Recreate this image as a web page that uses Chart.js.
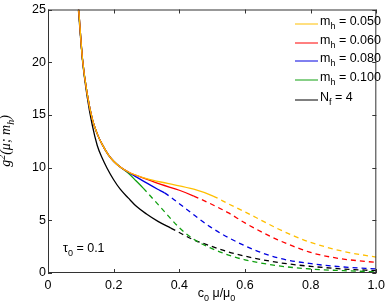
<!DOCTYPE html>
<html lang="en">
<head>
<meta charset="UTF-8">
<title>g2 running coupling</title>
<script src="https://cdn.jsdelivr.net/npm/chart.js"></script>
<style>
  body { margin: 0; background: #fff; }
  canvas { display: block; }
</style>
</head>
<body>
<canvas id="chart" width="390" height="306"></canvas>
<script>
// axis ticks
const xTicks = [0, 0.2, 0.4, 0.6, 0.8, 1];
const yTicks = [0, 5, 10, 15, 20, 25];

// m_h = 0.050 (solid up to 0.503, dashed after)
const m050_x = [0.0935, 0.105, 0.12, 0.135, 0.15, 0.165, 0.185, 0.2, 0.22, 0.245, 0.3, 0.364, 0.444, 0.503, 0.55, 0.6, 0.65, 0.7, 0.75, 0.8, 0.9, 1.0];
const m050_y = [25, 20.3, 16.9, 14.6, 13.2, 12.2, 11.15, 10.6, 10.05, 9.58, 8.95, 8.5, 7.95, 7.3, 6.55, 5.8, 5.0, 4.2, 3.5, 2.9, 2.05, 1.5];

// m_h = 0.060
const m060_x = [0.0935, 0.105, 0.12, 0.135, 0.15, 0.165, 0.185, 0.2, 0.22, 0.245, 0.3, 0.344, 0.4, 0.444, 0.513, 0.55, 0.6, 0.65, 0.7, 0.75, 0.8, 0.85, 0.9, 1.0];
const m060_y = [25, 20.3, 16.9, 14.6, 13.2, 12.2, 11.15, 10.6, 10.05, 9.58, 8.9, 8.4, 7.85, 7.3, 6.3, 5.7, 4.75, 3.9, 3.15, 2.5, 1.95, 1.58, 1.32, 1.0];

// m_h = 0.080
const m080_x = [0.0935, 0.105, 0.12, 0.135, 0.15, 0.165, 0.185, 0.2, 0.22, 0.245, 0.27, 0.3, 0.334, 0.355, 0.424, 0.493, 0.553, 0.628, 0.702, 0.802, 0.901, 1.0];
const m080_y = [25, 20.3, 16.9, 14.6, 13.2, 12.2, 11.15, 10.6, 10.05, 9.56, 9.1, 8.55, 7.95, 7.6, 6.0, 4.4, 3.3, 2.2, 1.42, 0.88, 0.57, 0.38];

// m_h = 0.100
const m100_x = [0.0935, 0.105, 0.12, 0.135, 0.15, 0.165, 0.185, 0.2, 0.22, 0.245, 0.268, 0.29, 0.344, 0.4, 0.444, 0.493, 0.55, 0.6, 0.7, 0.8, 0.9, 1.0];
const m100_y = [25, 20.3, 16.9, 14.6, 13.2, 12.2, 11.15, 10.6, 10.05, 9.47, 8.75, 8.05, 6.2, 4.3, 3.2, 2.4, 1.7, 1.25, 0.69, 0.38, 0.22, 0.12];

// N_f = 4
const nf4_x = [0.0925, 0.105, 0.12, 0.135, 0.15, 0.165, 0.18, 0.2, 0.22, 0.245, 0.27, 0.3, 0.335, 0.374, 0.394, 0.44, 0.493, 0.55, 0.6, 0.7, 0.8, 0.9, 1.0];
const nf4_y = [25, 20.2, 16.6, 14.0, 12.1, 10.9, 9.94, 8.85, 7.95, 7.1, 6.3, 5.6, 4.9, 4.26, 3.94, 3.2, 2.59, 2.0, 1.6, 1.0, 0.63, 0.38, 0.22];

// where each curve switches from solid to dashed
const solidEnd = [0.503, 0.444, 0.355, 0.29, 0.374];
const colors = ['#ffbf00', '#ff0000', '#0000e0', '#10a010', '#000000'];
const masses = ['0.050', '0.060', '0.080', '0.100'];

const sans = '"Liberation Sans", Arial, sans-serif';

function pts(xs, ys) {
  return xs.map((x, i) => ({ x: x, y: ys[i] }));
}

const series = [[m050_x, m050_y], [m060_x, m060_y], [m080_x, m080_y], [m100_x, m100_y], [nf4_x, nf4_y]];

const datasets = series.map((s, i) => ({
  data: pts(s[0], s[1]),
  borderColor: colors[i],
  borderWidth: 1.3,
  pointRadius: 0,
  fill: false,
  cubicInterpolationMode: 'monotone',
  segment: {
    borderDash: c => c.p0.parsed.x >= solidEnd[i] - 1e-9 ? [5, 4] : undefined
  }
}));

// draws text made of pieces: [text, 'sub' | 'sup' | '']
function rich(ctx, parts, x, y, font, subFont, align) {
  let w = 0;
  const ws = parts.map(p => {
    ctx.font = p[1] ? subFont : font;
    const m = ctx.measureText(p[0]).width;
    w += m;
    return m;
  });
  let cx = align === 'center' ? x - w / 2 : x;
  parts.forEach((p, i) => {
    ctx.font = p[1] ? subFont : font;
    let dy = 0;
    if (p[1] === 'sub') dy = 4;
    if (p[1] === 'sup') dy = -5;
    ctx.fillText(p[0], cx, y + dy);
    cx += ws[i];
  });
}

const decor = {
  id: 'decor',
  afterDraw(chart) {
    const { ctx, chartArea: a, scales } = chart;
    const xs = scales.x, ys = scales.y;
    ctx.save();
    // box and inward ticks
    ctx.strokeStyle = '#333';
    ctx.lineWidth = 1;
    ctx.strokeRect(a.left + 0.5, a.top + 0.5, a.right - a.left - 1, a.bottom - a.top - 1);
    ctx.beginPath();
    xTicks.forEach(v => {
      const p = Math.round(xs.getPixelForValue(v)) + 0.5;
      ctx.moveTo(p, a.bottom); ctx.lineTo(p, a.bottom - 4);
      ctx.moveTo(p, a.top); ctx.lineTo(p, a.top + 4);
    });
    yTicks.forEach(v => {
      const p = Math.round(ys.getPixelForValue(v)) + 0.5;
      ctx.moveTo(a.left, p); ctx.lineTo(a.left + 4, p);
      ctx.moveTo(a.right, p); ctx.lineTo(a.right - 4, p);
    });
    ctx.stroke();

    ctx.fillStyle = '#000';
    ctx.textBaseline = 'alphabetic';
    ctx.textAlign = 'left';
    const f = '12.5px ' + sans;
    const sf = '9px ' + sans;

    // legend
    const rowY = [20.7, 39, 57.5, 76, 96.5];
    const labels = masses.map(m => [['m', ''], ['h', 'sub'], [' = ' + m, '']]);
    labels.push([['N', ''], ['f', 'sub'], [' = 4', '']]);
    labels.forEach((parts, i) => {
      ctx.strokeStyle = colors[i];
      ctx.lineWidth = 1;
      ctx.beginPath();
      ctx.moveTo(295, Math.round(rowY[i] + 3.5));
      ctx.lineTo(318, Math.round(rowY[i] + 3.5));
      ctx.stroke();
      rich(ctx, parts, 320, rowY[i] + 4.5, f, sf, 'left');
    });

    // tau_0 note
    rich(ctx, [['\u03c4', ''], ['0', 'sub'], [' = 0.1', '']], 63, 252, f, sf, 'left');

    // x title
    rich(ctx, [['c', ''], ['0', 'sub'], [' \u03bc/\u03bc', ''], ['0', 'sub']], 216.5, 297, f, sf, 'center');

    // y title
    ctx.translate(10, 141);
    ctx.rotate(-Math.PI / 2);
    const itf = 'italic 14px "Liberation Serif", "DejaVu Serif", serif';
    const itsf = 'italic 10px "Liberation Serif", "DejaVu Serif", serif';
    rich(ctx, [['g', ''], ['2', 'sup'], ['(\u03bc; m', ''], ['h', 'sub'], [')', '']], 0, 0, itf, itsf, 'center');
    ctx.restore();
  }
};

new Chart(document.getElementById('chart'), {
  type: 'line',
  data: { datasets: datasets },
  options: {
    responsive: false,
    animation: false,
    devicePixelRatio: 1,
    layout: { padding: { top: 9, right: 7, left: 0, bottom: 0 } },
    plugins: { legend: { display: false }, tooltip: { enabled: false } },
    scales: {
      x: {
        type: 'linear',
        min: 0,
        max: 1,
        grid: { display: false, drawTicks: false },
        border: { display: false },
        ticks: { stepSize: 0.2, padding: 5, color: '#000', font: { family: sans, size: 12.5 }, maxRotation: 0 },
        afterFit: s => { s.height = 33; }
      },
      y: {
        min: 0,
        max: 25,
        grid: { display: false, drawTicks: false },
        border: { display: false },
        ticks: { stepSize: 5, padding: 2, color: '#000', font: { family: sans, size: 12.5 } },
        afterFit: s => { s.width = 48; }
      }
    }
  },
  plugins: [decor]
});
</script>
</body>
</html>
